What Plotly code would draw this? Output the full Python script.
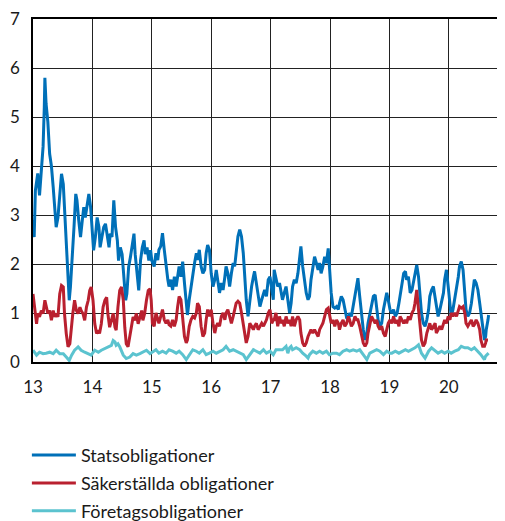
import plotly.graph_objects as go

# ---- Statsobligationer (blue) ----
stat_x = [13.00, 13.02, 13.04, 13.06, 13.08, 13.11, 13.14, 13.17, 13.19, 13.20, 13.22, 13.25, 13.28, 13.31,
          13.34, 13.37, 13.39, 13.42, 13.45, 13.48, 13.51, 13.53, 13.56, 13.59, 13.61, 13.63, 13.66, 13.69,
          13.72, 13.74, 13.77, 13.80, 13.83, 13.855, 13.88, 13.91, 13.94, 13.97, 14.00, 14.02, 14.05, 14.08,
          14.11, 14.13, 14.16, 14.19, 14.22, 14.25, 14.28, 14.30, 14.33, 14.36, 14.39, 14.42, 14.44, 14.47,
          14.50, 14.53, 14.56, 14.58, 14.61, 14.64, 14.67, 14.70, 14.72, 14.75, 14.78, 14.81, 14.84, 14.87,
          14.89, 14.92, 14.95, 14.98, 15.00,
          15.04, 15.07, 15.10, 15.12, 15.15, 15.18, 15.21, 15.24, 15.27, 15.29, 15.32, 15.35, 15.38, 15.41,
          15.435, 15.46, 15.49, 15.52, 15.55, 15.58, 15.60, 15.63, 15.66, 15.69, 15.72, 15.75, 15.77, 15.80,
          15.83, 15.86, 15.89, 15.915, 15.94, 15.97, 16.00, 16.03, 16.06, 16.085, 16.11, 16.14, 16.17, 16.20,
          16.23, 16.25, 16.28, 16.31, 16.34, 16.37, 16.395, 16.42, 16.45, 16.48, 16.51, 16.54, 16.565, 16.59,
          16.62, 16.65, 16.68, 16.71, 16.73, 16.76, 16.79, 16.82, 16.85, 16.88, 16.90, 16.93, 16.96, 16.99,
          17.02, 17.045,
          17.06, 17.09, 17.12, 17.15, 17.175, 17.20, 17.23, 17.26, 17.29, 17.32, 17.345, 17.37, 17.40, 17.43,
          17.46, 17.49, 17.51, 17.54, 17.57, 17.60, 17.63, 17.655, 17.68, 17.71, 17.74, 17.77, 17.80, 17.825,
          17.85, 17.88, 17.91, 17.94, 17.97, 17.99, 18.02, 18.05, 18.08, 18.11, 18.14, 18.16, 18.19, 18.22,
          18.25, 18.28, 18.31, 18.33, 18.36, 18.39, 18.42, 18.45, 18.47, 18.50, 18.53, 18.56, 18.59, 18.62,
          18.64, 18.67, 18.70, 18.73, 18.76, 18.785, 18.81, 18.84, 18.87, 18.90, 18.93, 18.955, 18.98, 19.01,
          19.04, 19.07, 19.10, 19.13, 19.16, 19.18, 19.21, 19.24, 19.27, 19.29, 19.32, 19.35, 19.38, 19.41,
          19.43, 19.46, 19.49, 19.52, 19.54, 19.57, 19.60, 19.63, 19.66, 19.68, 19.71, 19.74, 19.77, 19.79,
          19.82, 19.85, 19.88, 19.91, 19.93, 19.96, 19.99, 20.02, 20.04, 20.07, 20.10, 20.13, 20.16, 20.18,
          20.21, 20.24, 20.27, 20.29, 20.32, 20.35, 20.38, 20.41, 20.43, 20.46, 20.49, 20.52, 20.54, 20.57,
          20.60, 20.62, 20.63, 20.66, 20.67]
stat_y = [2.9, 2.55, 3.5, 3.7, 3.85, 3.4, 3.9, 4.4, 5.2, 5.8, 5.27, 4.9, 4.25, 4.0,
          3.57, 3.1, 2.75, 2.95, 3.43, 3.84, 3.63, 3.1, 2.48, 1.8, 1.26, 1.53, 2.07, 2.75,
          3.43, 3.3, 2.89, 2.55, 2.89, 3.16, 2.95, 3.16, 3.43, 3.16, 2.62, 2.28, 2.55, 2.95,
          2.75, 2.34, 2.55, 2.75, 2.82, 2.62, 2.34, 2.62, 2.55, 3.3, 2.75, 2.48, 2.07, 2.34,
          2.2, 1.73, 1.26, 1.39, 1.94, 2.14, 2.34, 2.62, 2.2, 1.8, 1.46, 2.07, 2.34, 2.48,
          2.2, 2.34, 2.07, 2.28, 2.07,
          1.95, 2.22, 2.08, 2.29, 2.36, 2.63, 2.29, 1.95, 1.68, 1.54, 1.68, 1.47, 1.74, 1.54,
          1.81, 1.95, 1.74, 2.05, 1.61, 1.2, 0.96, 1.27, 1.54, 1.81, 2.02, 2.22, 2.08, 2.29,
          1.95, 1.81, 1.88, 2.22, 2.39, 2.29, 1.81, 1.54, 1.68, 1.88, 1.68, 1.41, 1.61, 1.47,
          1.74, 1.95, 1.81, 1.54, 1.81, 2.02, 1.95, 2.22, 2.56, 2.7, 2.56, 2.22, 1.68, 1.27,
          0.93, 1.27, 1.54, 1.74, 1.85, 1.61, 1.41, 1.13, 1.27, 1.41, 1.47, 1.34, 1.68, 1.74,
          1.47, 1.27,
          1.88, 1.74, 1.54, 1.61, 1.41, 1.27, 1.41, 1.54, 1.27, 1.0, 1.2, 1.54, 1.68, 1.61,
          1.81, 2.15, 2.36, 1.95, 1.68, 1.41, 1.27, 1.34, 1.68, 1.95, 2.15, 2.02, 1.88, 2.02,
          1.81, 1.95, 2.15, 2.02, 2.32, 1.95, 1.41, 1.13, 1.1, 1.13, 1.07, 1.2, 1.34, 1.27,
          1.07, 0.9, 0.86, 1.0, 0.93, 1.13, 1.34, 1.54, 1.71, 1.34, 0.93, 0.66, 0.45, 0.59,
          0.79, 1.0, 1.2, 1.34, 1.37, 1.13, 0.86, 0.73, 0.79, 1.07, 1.27, 1.41, 1.27, 1.07,
          1.0, 1.07, 0.93, 1.0, 1.2, 1.34, 1.61, 1.81, 1.85, 1.68, 1.74, 1.41, 1.47, 1.68,
          1.81, 1.98, 1.74, 1.34, 1.0, 0.79, 0.73, 0.86, 1.07, 1.34, 1.47, 1.54, 1.34, 1.13,
          0.93, 1.07, 1.27, 1.41, 1.68, 1.88, 1.54, 1.2, 0.93, 1.07, 1.27, 1.47, 1.74, 1.95,
          2.05, 1.88, 1.41, 1.07, 0.93, 1.0, 1.2, 1.54, 1.68, 1.61, 1.47, 1.2, 1.0, 0.66,
          0.45, 0.52, 0.66, 0.86, 0.96]

# ---- Säkerställda obligationer (red) ----
sak_x = [13.00, 13.03, 13.06, 13.08, 13.11, 13.14, 13.17, 13.20, 13.22, 13.25, 13.28, 13.31, 13.34, 13.37,
         13.39, 13.42, 13.45, 13.48, 13.51, 13.53, 13.56, 13.59, 13.62, 13.65, 13.67, 13.70, 13.73, 13.76,
         13.79, 13.81, 13.84, 13.87, 13.90, 13.93, 13.955, 13.98, 14.01, 14.04, 14.07, 14.10, 14.12, 14.15,
         14.18, 14.21, 14.24, 14.26, 14.29, 14.32, 14.35, 14.38, 14.40, 14.43, 14.46, 14.49, 14.52, 14.545,
         14.57, 14.60, 14.63, 14.66, 14.685, 14.71, 14.74, 14.77, 14.80, 14.83, 14.85, 14.88, 14.91, 14.94,
         14.97, 14.99,
         15.01, 15.04, 15.07, 15.10, 15.12, 15.15, 15.18, 15.21, 15.24, 15.27, 15.29, 15.32, 15.35, 15.38,
         15.41, 15.435, 15.46, 15.49, 15.52, 15.55, 15.58, 15.60, 15.63, 15.66, 15.69, 15.72, 15.75, 15.77,
         15.80, 15.83, 15.86, 15.89, 15.915, 15.94, 15.97, 16.00, 16.03, 16.06, 16.085, 16.11, 16.14, 16.17,
         16.20, 16.23, 16.25, 16.28, 16.31, 16.34, 16.37, 16.395, 16.42, 16.45, 16.48, 16.51, 16.54, 16.565,
         16.59, 16.62, 16.65, 16.68, 16.71, 16.73, 16.76, 16.79, 16.82, 16.85, 16.88, 16.90, 16.93, 16.96,
         16.99, 17.02, 17.045,
         17.06, 17.09, 17.12, 17.15, 17.175, 17.20, 17.23, 17.26, 17.29, 17.32, 17.345, 17.37, 17.40, 17.43,
         17.46, 17.49, 17.51, 17.54, 17.57, 17.60, 17.63, 17.655, 17.68, 17.71, 17.74, 17.77, 17.80, 17.825,
         17.85, 17.88, 17.91, 17.94, 17.97, 17.99, 18.02, 18.05, 18.08, 18.11, 18.14, 18.16, 18.19, 18.22,
         18.25, 18.28, 18.31, 18.33, 18.36, 18.39, 18.42, 18.45, 18.47, 18.50, 18.53, 18.56, 18.59, 18.62,
         18.64, 18.67, 18.70, 18.73, 18.76, 18.785, 18.81, 18.84, 18.87, 18.90, 18.93, 18.955, 18.98, 19.01,
         19.04, 19.07, 19.10, 19.13, 19.16, 19.18, 19.21, 19.24, 19.27, 19.29, 19.32, 19.35, 19.38, 19.41,
         19.43, 19.46, 19.49, 19.52, 19.54, 19.57, 19.60, 19.63, 19.66, 19.68, 19.71, 19.74, 19.77, 19.79,
         19.82, 19.85, 19.88, 19.91, 19.93, 19.96, 19.99, 20.02, 20.04, 20.07, 20.10, 20.13, 20.16, 20.18,
         20.21, 20.24, 20.27, 20.29, 20.32, 20.35, 20.38, 20.41, 20.43, 20.46, 20.49, 20.52, 20.54, 20.57,
         20.60, 20.62, 20.63, 20.66]
sak_y = [1.39, 1.05, 0.78, 0.99, 0.92, 1.05, 0.99, 1.26, 1.12, 0.99, 1.05, 0.85, 1.05, 0.92,
         0.99, 0.92, 1.39, 1.56, 1.53, 0.99, 0.58, 0.31, 0.37, 0.85, 0.99, 1.26, 1.05, 0.99,
         1.12, 1.05, 0.99, 0.85, 1.12, 1.26, 1.46, 1.53, 1.26, 0.78, 0.58, 0.65, 0.58, 0.78,
         1.12, 1.26, 1.32, 0.99, 0.71, 0.85, 0.99, 0.71, 0.65, 1.12, 1.46, 1.53, 1.26, 0.71,
         0.37, 0.31, 0.51, 0.78, 0.92, 0.85, 0.99, 0.78, 0.92, 1.05, 0.85, 0.99, 1.26, 1.46,
         1.49, 1.26,
         0.79, 0.73, 1.0, 0.86, 0.79, 0.93, 1.07, 0.86, 0.79, 0.86, 0.76, 0.73, 0.86, 0.73,
         0.86, 1.13, 1.34, 1.27, 0.86, 0.52, 0.39, 0.45, 0.73, 0.86, 0.93, 0.9, 1.0, 1.2,
         1.13, 0.73, 0.52, 0.59, 0.86, 1.07, 0.93, 1.07, 0.79, 0.59, 0.73, 0.79, 0.73, 0.93,
         1.0, 0.86, 1.0, 1.07, 0.93, 0.79, 0.93, 1.07, 1.2, 1.24, 1.2, 1.0, 0.73, 0.52,
         0.39, 0.52, 0.79, 0.73, 0.66, 0.73, 0.79, 0.66, 0.73, 0.79, 0.73, 0.79, 0.86, 1.0,
         1.07, 0.79, 0.86,
         0.86, 1.0, 0.73, 0.93, 0.79, 0.86, 0.73, 0.93, 0.79, 0.86, 0.73, 0.93, 0.73, 0.86,
         0.93, 0.86, 0.59, 0.39, 0.32, 0.39, 0.52, 0.59, 0.66, 0.59, 0.66, 0.59, 0.52, 0.66,
         0.73, 0.79, 0.93, 1.07, 1.1, 1.0, 0.79, 0.86, 0.73, 0.86, 0.79, 0.66, 0.79, 0.86,
         0.73, 0.79, 0.93, 0.86, 0.73, 0.79, 0.93, 0.86, 0.86, 0.73, 0.52, 0.39, 0.32, 0.39,
         0.59, 0.79, 0.93, 0.86, 0.79, 0.86, 0.73, 0.66, 0.73, 0.59, 0.52, 0.66, 0.79, 0.86,
         0.79, 0.93, 0.79, 0.86, 0.73, 0.93, 0.86, 0.79, 0.86, 0.79, 0.93, 0.86, 1.0, 1.07,
         1.2, 1.47, 1.07, 0.66, 0.45, 0.32, 0.39, 0.59, 0.73, 0.79, 0.66, 0.73, 0.79, 0.59,
         0.66, 0.73, 0.66, 0.79, 0.86, 0.79, 0.93, 0.86, 1.0, 0.93, 1.0, 0.93, 1.07, 1.13,
         1.1, 1.13, 1.0, 0.79, 0.73, 0.79, 0.86, 0.73, 0.76, 0.86, 0.79, 0.66, 0.45, 0.32,
         0.32, 0.39, 0.45, 0.45]

# ---- Företagsobligationer (teal) ----
fore_x = [13.00, 13.06, 13.11, 13.17, 13.22, 13.28, 13.34, 13.39, 13.45, 13.51, 13.56, 13.61, 13.65, 13.70,
          13.76, 13.81, 13.87, 13.93, 13.98, 14.04, 14.10, 14.15, 14.21, 14.26, 14.32, 14.35, 14.38, 14.40,
          14.43, 14.46, 14.49, 14.52, 14.57, 14.63, 14.685, 14.74, 14.80, 14.85, 14.91, 14.97,
          15.07, 15.12, 15.18, 15.24, 15.29, 15.35, 15.41, 15.46, 15.52, 15.58, 15.63, 15.69, 15.75, 15.80,
          15.86, 15.915, 15.97, 16.03, 16.085, 16.14, 16.20, 16.25, 16.31, 16.37, 16.42, 16.48, 16.54, 16.59,
          16.65, 16.71, 16.76, 16.82, 16.88, 16.93, 16.99, 17.045,
          17.09, 17.15, 17.20, 17.26, 17.29, 17.32, 17.345, 17.37, 17.43, 17.49, 17.54, 17.60, 17.63, 17.655,
          17.71, 17.77, 17.825, 17.88, 17.94, 17.99, 18.05, 18.11, 18.16, 18.22, 18.28, 18.33, 18.39, 18.45,
          18.50, 18.56, 18.62, 18.67, 18.73, 18.785, 18.84, 18.90, 18.955, 19.01,
          19.04, 19.10, 19.16, 19.21, 19.27, 19.32, 19.38, 19.43, 19.49, 19.54, 19.60, 19.66, 19.71, 19.77,
          19.82, 19.88, 19.93, 19.99, 20.04, 20.10, 20.16, 20.21, 20.27, 20.32, 20.38, 20.43, 20.49, 20.54,
          20.60, 20.62, 20.67]
fore_y = [0.24, 0.14, 0.2, 0.17, 0.18, 0.2, 0.17, 0.24, 0.17, 0.17, 0.1, 0.03, 0.14, 0.24,
          0.31, 0.24, 0.2, 0.17, 0.14, 0.24, 0.2, 0.24, 0.27, 0.31, 0.34, 0.44, 0.41, 0.34,
          0.37, 0.31, 0.24, 0.14, 0.07, 0.1, 0.17, 0.14, 0.17, 0.2, 0.24, 0.17,
          0.25, 0.18, 0.22, 0.18, 0.25, 0.22, 0.18, 0.22, 0.15, 0.05, 0.15, 0.25, 0.22, 0.18,
          0.25, 0.15, 0.18, 0.22, 0.18, 0.22, 0.25, 0.32, 0.22, 0.25, 0.22, 0.18, 0.15, 0.05,
          0.15, 0.25, 0.22, 0.18, 0.25, 0.18, 0.22, 0.15,
          0.25, 0.25, 0.25, 0.32, 0.18, 0.29, 0.32, 0.25, 0.29, 0.25, 0.18, 0.12, 0.08, 0.15,
          0.22, 0.18, 0.22, 0.18, 0.22, 0.15, 0.18, 0.18, 0.15, 0.22, 0.25, 0.22, 0.25, 0.22,
          0.25, 0.15, 0.05, 0.18, 0.22, 0.25, 0.22, 0.15, 0.22, 0.18,
          0.18, 0.22, 0.18, 0.22, 0.25, 0.22, 0.25, 0.29, 0.35, 0.18, 0.08, 0.22, 0.29, 0.22,
          0.18, 0.22, 0.18, 0.22, 0.18, 0.22, 0.25, 0.32, 0.29, 0.29, 0.25, 0.29, 0.22, 0.15,
          0.05, 0.12, 0.18]

x_ticks = [13, 14, 15, 16, 17, 18, 19, 20]
x_tick_labels = ["13", "14", "15", "16", "17", "18", "19", "20"]
y_ticks = [0, 1, 2, 3, 4, 5, 6, 7]

series = [
    ("Statsobligationer", stat_x, stat_y, "#0070B8"),
    ("Säkerställda obligationer", sak_x, sak_y, "#B9202F"),
    ("Företagsobligationer", fore_x, fore_y, "#5BC3CF"),
]

FONT = "Lato, 'Open Sans', Arial, sans-serif"

fig = go.Figure()
for i, (name, xs, ys, col) in enumerate(series):
    fig.add_trace(go.Scatter(x=xs, y=ys, mode="lines", name=name,
                             legendgroup="g%d" % i,
                             line=dict(color=col, width=3)))

# page body has an 8px default margin, so the figure is sized to sit at 8px offset
fig.update_layout(
    width=497, height=513,
    margin=dict(l=25, r=0, t=11, b=159, autoexpand=False),
    paper_bgcolor="white", plot_bgcolor="white",
    font=dict(family=FONT, size=17, color="#1a1a1a"),
    showlegend=True,
    legend=dict(xref="container", yref="container", x=0.038, xanchor="left",
                y=0.164, yanchor="top", tracegroupgap=1.5,
                orientation="v", font=dict(size=18, family=FONT, color="#1a1a1a"),
                bgcolor="rgba(0,0,0,0)", itemwidth=44),
)
fig.update_xaxes(range=[13, 20.946], tickvals=x_ticks, ticktext=x_tick_labels,
                 showgrid=True, gridcolor="#222222", gridwidth=1.2,
                 showline=True, linecolor="#000", linewidth=1.5, mirror=True,
                 automargin=False, ticklabeloverflow="allow",
                 zeroline=False, ticks="", ticklabelstandoff=9)
fig.update_yaxes(range=[0, 7], tickvals=y_ticks,
                 showgrid=True, gridcolor="#222222", gridwidth=1.2,
                 showline=True, linecolor="#000", linewidth=1.5,
                 automargin=False, ticklabeloverflow="allow",
                 zeroline=False, ticks="", ticklabelstandoff=8)

fig.write_html("out.html")
